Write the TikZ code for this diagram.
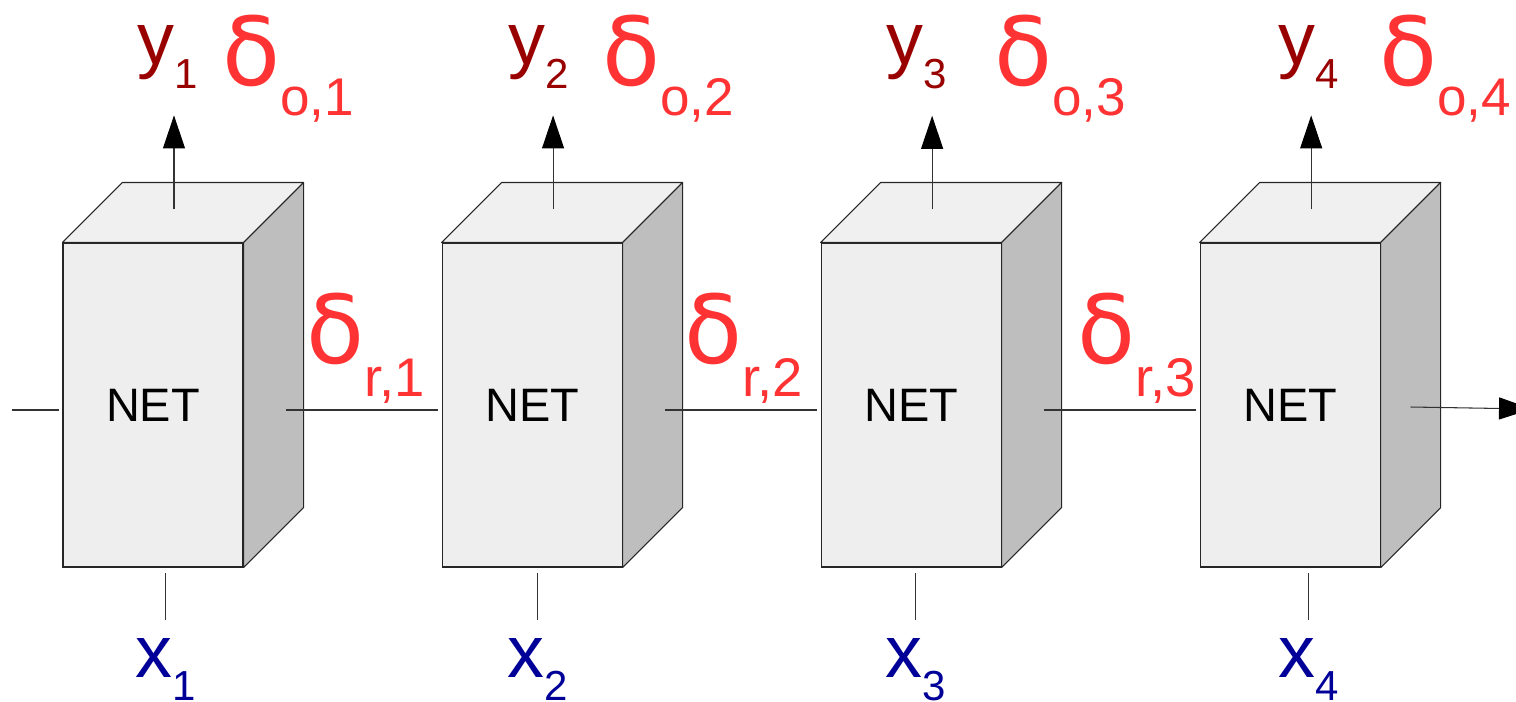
\documentclass[tikz,border=0pt]{standalone}
\usepackage{fontspec}
\setmainfont{Liberation Sans}
\newfontfamily\greekfont{DejaVu Sans}
\usetikzlibrary{arrows.meta,positioning,calc}
\definecolor{NetFront}{HTML}{EEEEEE}
\definecolor{NetTop}{HTML}{F0F0F0}
\definecolor{NetSide}{HTML}{BEBEBE}
\definecolor{OutRed}{HTML}{990000}
\definecolor{DeltaRed}{HTML}{FF3333}
\definecolor{InBlue}{HTML}{000099}
\newcommand{\lsub}[3]{\raisebox{-#1}{\fontsize{#2}{#2}\selectfont #3}}
\newcommand{\dlt}{{\greekfont δ}}
\newcommand{\netdepth}[1]{%
  \filldraw[facebox,fill=NetTop] (#1.north west) -- ++(1.2,1.2) -- ($(#1.north east)+(1.2,1.2)$) -- (#1.north east) -- cycle;
  \filldraw[facebox,fill=NetSide] (#1.north east) -- ++(1.2,1.2) -- ($(#1.south east)+(1.2,1.2)$) -- (#1.south east) -- cycle;}

\begin{document}
\begin{tikzpicture}[node distance=3.96cm]
    \tikzset{netbox/.style={draw=black!85,line width=0.6pt,fill=NetFront,minimum width=3.6cm,minimum height=6.48cm,inner sep=0pt,font=\fontsize{26.7}{30}\selectfont},
      facebox/.style={draw=black!85,line width=0.6pt,line join=round},
      wire/.style={black!80,line width=0.6pt},
      uparrow/.style={wire,-{Triangle[length=0.66cm,width=0.44cm,color=black]}},
      ylab/.style={anchor=base west,inner sep=0pt,text=OutRed,font=\fontsize{42}{46}\selectfont},
      dlab/.style={anchor=base west,inner sep=0pt,text=DeltaRed,font=\fontsize{54}{58}\selectfont},
      xlab/.style={anchor=base west,inner sep=0pt,text=InBlue,font=\fontsize{42}{46}\selectfont}}
    \useasboundingbox (0,0) rectangle (30.32,-14.02);
    \node[netbox] (net1) at (3.06,-8.1) {NET};
    \node[netbox,right=of net1] (net2) {NET};
    \node[netbox,right=of net2] (net3) {NET};
    \node[netbox,right=of net3] (net4) {NET};
    \netdepth{net1}
    \netdepth{net2}
    \netdepth{net3}
    \netdepth{net4}
    % outputs and their errors
    \node[ylab] (y1) at (2.74,-1.28) {y\lsub{13.7pt}{23.9}{1}};
    \node[ylab] (y2) at (10.16,-1.28) {y\lsub{13.7pt}{23.9}{2}};
    \node[ylab] (y3) at (17.72,-1.28) {y\lsub{13.7pt}{23.9}{3}};
    \node[ylab] (y4) at (25.56,-1.28) {y\lsub{13.7pt}{23.9}{4}};
    \node[dlab] (do1) at (4.44,-1.70) {\dlt\lsub{17.1pt}{30.2}{o,1}};
    \node[dlab] (do2) at (12.04,-1.70) {\dlt\lsub{17.1pt}{30.2}{o,2}};
    \node[dlab] (do3) at (19.88,-1.70) {\dlt\lsub{17.1pt}{30.2}{o,3}};
    \node[dlab] (do4) at (27.58,-1.70) {\dlt\lsub{17.1pt}{30.2}{o,4}};
    % recurrent errors
    \node[dlab] (dr1) at (6.12,-7.26) {\dlt\lsub{19.3pt}{31}{r,1}};
    \node[dlab] (dr2) at (13.68,-7.26) {\dlt\lsub{19.3pt}{31}{r,2}};
    \node[dlab] (dr3) at (21.54,-7.26) {\dlt\lsub{19.3pt}{31}{r,3}};
    % inputs
    \node[xlab] (x1) at (2.70,-13.54) {x\lsub{13.1pt}{23.9}{1}};
    \node[xlab] (x2) at (10.14,-13.54) {x\lsub{13.1pt}{23.9}{2}};
    \node[xlab] (x3) at (17.70,-13.54) {x\lsub{13.1pt}{23.9}{3}};
    \node[xlab] (x4) at (25.56,-13.54) {x\lsub{13.1pt}{23.9}{4}};
    \coordinate (o1) at ($(net1.north)+(0.42,0.66)$);
    \coordinate (o2) at ($(net2.north)+(0.42,0.66)$);
    \coordinate (o3) at ($(net3.north)+(0.42,0.66)$);
    \coordinate (o4) at ($(net4.north)+(0.42,0.66)$);
    \draw[uparrow,shorten >=0.54cm] (o1) -- (o1 |- y1.south);
    \draw[uparrow,shorten >=0.54cm] (o2) -- (o2 |- y2.south);
    \draw[uparrow,shorten >=0.54cm] (o3) -- (o3 |- y3.south);
    \draw[uparrow,shorten >=0.54cm] (o4) -- (o4 |- y4.south);
    \draw[wire,shorten <=0.36cm,shorten >=0.1cm] (x1.north) -- (x1.north |- net1.south);
    \draw[wire,shorten <=0.36cm,shorten >=0.1cm] (x2.north) -- (x2.north |- net2.south);
    \draw[wire,shorten <=0.36cm,shorten >=0.1cm] (x3.north) -- (x3.north |- net3.south);
    \draw[wire,shorten <=0.36cm,shorten >=0.1cm] (x4.north) -- (x4.north |- net4.south);
    % state passed along
    \coordinate (in0) at (0.24,-8.2);
    \coordinate (r1) at ($(net1.east)+(0.84,-0.1)$);
    \coordinate (r2) at ($(net2.east)+(0.84,-0.1)$);
    \coordinate (r3) at ($(net3.east)+(0.84,-0.1)$);
    \coordinate (r4) at ($(net4.east)+(0.6,-0.04)$);
    \coordinate (out) at (30.64,-8.18);
    \draw[wire,shorten >=0.06cm] (in0) -- (in0 -| net1.west);
    \draw[wire,shorten >=0.08cm] (r1) -- (r1 -| net2.west);
    \draw[wire,shorten >=0.08cm] (r2) -- (r2 -| net3.west);
    \draw[wire,shorten >=0.08cm] (r3) -- (r3 -| net4.west);
    \draw[uparrow] (r4) -- (out);
  \end{tikzpicture}
\end{document}
